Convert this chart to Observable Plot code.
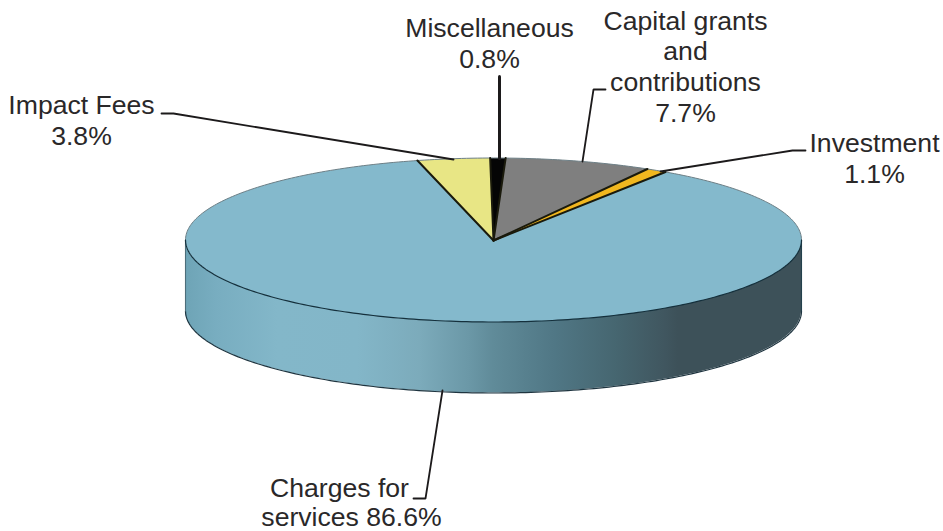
<!DOCTYPE html>
<html>
<head>
<meta charset="utf-8">
<script src="https://cdn.jsdelivr.net/npm/d3@7"></script>
<script src="https://cdn.jsdelivr.net/npm/@observablehq/plot@0.6"></script>
<style>
html,body{margin:0;padding:0;background:#fff;}
svg{display:block;}
</style>
</head>
<body>
<div id="chart"></div>
<script>
// Chart values
const categories = ["Impact Fees", "Miscellaneous", "Capital grants and contributions", "Investment", "Charges for services"];
const shares = [3.8, 0.8, 7.7, 1.1, 86.6];
const sliceColors = ["#e8e685", "#050505", "#7f7f7f", "#f1b71f", "#84b9cc"];

// Label lines
const labelLines = ["Miscellaneous", "0.8%", "Capital grants", "and", "contributions", "7.7%", "Investment", "1.1%", "Impact Fees", "3.8%", "Charges for", "services 86.6%"];
const labelX = [489, 489, 685, 685, 685, 685, 874, 874, 81, 81, 339, 351];
const labelY = [36, 67, 29, 59, 90, 121, 151, 182, 113, 144, 496, 525];

// Leader lines (one entry per label, drawn in order)
const leaderNames = ["Impact Fees", "Impact Fees", "Impact Fees", "Miscellaneous", "Miscellaneous", "Capital", "Capital", "Capital", "Investment", "Investment", "Investment", "Charges", "Charges", "Charges"];
const leaderX = [161, 173, 453, 499, 499, 605, 593, 582, 805, 792, 660, 413, 425, 442];
const leaderY = [113, 113, 159, 76, 158, 89, 89, 161, 150, 150, 171, 498, 498, 390];

// Disc geometry
const cx = 493, cy = 239.5, rx = 308, ry = 82, depth = 71;
const startDeg = -14.3;

// Side wall shading
const wallOffsets = [0, 0.05, 0.15, 0.28, 0.38, 0.46, 0.5, 0.6, 0.7, 0.78, 0.8, 1];
const wallColors = ["#6ea4b6", "#78adc0", "#83b7c9", "#83b6c8", "#7cabbb", "#6b98a7", "#608b99", "#507785", "#466670", "#40565f", "#3d5159", "#3d5159"];

// Derived slices
const total = d3.sum(shares);
const rad = Math.PI / 180;
const ex = a => cx + rx * Math.sin(a);
const ey = a => cy - ry * Math.cos(a);
let acc = startDeg * rad;
const slices = categories.map((name, i) => {
  const a0 = acc, a1 = acc + shares[i] / total * 2 * Math.PI;
  acc = a1;
  return {name, a0, a1, i};
});
const slicePoints = slices.flatMap(s => {
  const n = Math.max(4, Math.ceil((s.a1 - s.a0) / (1 * rad)));
  return [{name: s.name, x: cx, y: cy + 0.5},
    ...d3.range(n + 1).map(k => {
      const a = s.a0 + (s.a1 - s.a0) * k / n;
      return {name: s.name, x: ex(a), y: ey(a)};
    }),
    {name: s.name, x: cx, y: cy + 0.5}];
});
const edgePoints = slices.slice(0, 4).flatMap(s => [
  {k: s.name, x: cx, y: cy + 0.5, a: s.a0},
  {k: s.name, x: ex(s.a0), y: ey(s.a0), a: s.a0}
]).concat([
  {k: "last", x: cx, y: cy + 0.5},
  {k: "last", x: ex(slices[3].a1), y: ey(slices[3].a1)}
]);
const frontRim = d3.range(90, 271, 1).map(d => ({
  x: ex(d * rad), y: ey(d * rad), y2: ey(d * rad) + depth
}));
const fullRim = d3.range(0, 361, 1).map(d => ({x: ex(d * rad), y: ey(d * rad)}));
const backRim = fullRim.filter((_, d) => d <= 90 || d >= 270)
  .sort((a, b) => a.x - b.x);

const labelRows = labelLines.map((text, i) => ({text, x: labelX[i], y: labelY[i]}));
const leaders = leaderNames.map((name, i) => ({name, x: leaderX[i], y: leaderY[i]}));

const defs = () => {
  const d = d3.create("svg:defs");
  const g = d.append("linearGradient").attr("id", "wall")
    .attr("gradientUnits", "userSpaceOnUse")
    .attr("x1", cx - rx).attr("x2", cx + rx).attr("y1", 0).attr("y2", 0);
  wallOffsets.forEach((o, i) => g.append("stop").attr("offset", o).attr("stop-color", wallColors[i]));
  return d.node();
};

const chart = Plot.plot({
  width: 943,
  height: 531,
  margin: 0,
  x: {domain: [0, 943], range: [0, 943], axis: null},
  y: {domain: [0, 531], range: [0, 531], axis: null},
  color: {domain: categories, range: sliceColors},
  style: {background: "#fff"},
  marks: [
    defs,
    // side wall
    Plot.areaY(frontRim, {x: "x", y1: "y", y2: "y2", fill: "url(#wall)"}),
    Plot.line(frontRim, {x: "x", y: "y2", stroke: "#1f3540", strokeWidth: 1.2}),
    Plot.line(frontRim.slice(0, 1).concat(frontRim.slice(0, 1).map(d => ({x: d.x, y: d.y2}))), {x: "x", y: "y", stroke: "#24414d", strokeWidth: 1.1}),
    Plot.line(frontRim.slice(-1).concat(frontRim.slice(-1).map(d => ({x: d.x, y: d.y2}))), {x: "x", y: "y", stroke: "#4d6e7a", strokeWidth: 1.1}),
    // top face
    Plot.line(slicePoints, {x: "x", y: "y", z: "name", fill: "name", stroke: null}),
    Plot.line(backRim, {x: "x", y: "y", stroke: "#6d7f86", strokeWidth: 1}),
    Plot.line(frontRim, {x: "x", y: "y", stroke: "#15303c", strokeWidth: 1.2}),
    // slice edges
    Plot.line(edgePoints, {x: "x", y: "y", z: "k", stroke: "#1a1a0c", strokeWidth: 2}),
    // leaders
    Plot.line(leaders, {x: "x", y: "y", z: "name", stroke: "#1c1a1b", strokeWidth: d => d.name === "Miscellaneous" ? 3 : 1.8, strokeLinejoin: "miter"}),
    // labels
    Plot.text(labelRows, {x: "x", y: "y", text: "text", textAnchor: "middle", lineAnchor: "bottom", fontFamily: "Liberation Sans", fontSize: 26.6, fill: "#2a2829"})
  ]
});
document.getElementById("chart").append(chart);
</script>
</body>
</html>
